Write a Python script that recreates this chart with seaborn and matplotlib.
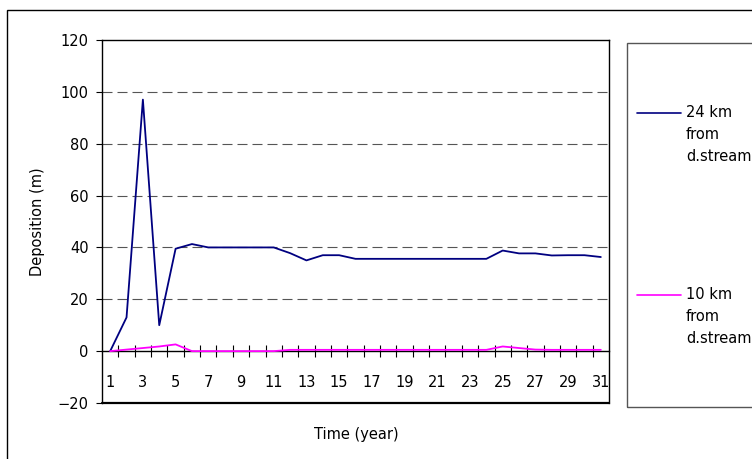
import matplotlib
matplotlib.use('Agg')
import matplotlib.pyplot as plt
import seaborn as sns
import pandas as pd
from matplotlib.patches import Rectangle
from matplotlib.lines import Line2D
from matplotlib.ticker import FixedLocator, NullFormatter

years = list(range(1, 32))
dep_24km = [0, 13, 97, 10, 39.5, 41.3, 40, 40, 40, 40, 40, 37.8, 35, 37, 37,
            35.6, 35.6, 35.6, 35.6, 35.6, 35.6, 35.6, 35.6, 35.6,
            38.8, 37.7, 37.7, 36.9, 37, 37, 36.3]
dep_10km = [0, 0.6, 1.2, 1.8, 2.6, 0, 0, 0, 0, 0, 0,
            0.5, 0.5, 0.5, 0.5, 0.5, 0.5, 0.5, 0.5, 0.5, 0.5, 0.5, 0.5, 0.5,
            1.8, 1.2, 0.6, 0.5, 0.5, 0.5, 0.5]
series_names = ["24 km\nfrom\nd.stream", "10 km\nfrom\nd.stream"]
series_colors = ["#000080", "#FF00FF"]
y_ticks = [-20, 0, 20, 40, 60, 80, 100, 120]
x_labels = [str(y) for y in years if y % 2 == 1]

df = pd.DataFrame({
    "Year": years * 2,
    "Deposition": dep_24km + dep_10km,
    "Series": [series_names[0]] * len(years) + [series_names[1]] * len(years),
})

sns.set_style("white")
plt.rcParams['font.family'] = ['DejaVu Sans']
plt.rcParams['text.color'] = 'black'
plt.rcParams['axes.labelcolor'] = 'black'
plt.rcParams['xtick.color'] = 'black'
plt.rcParams['ytick.color'] = 'black'
FS = 10.5

W, H = 752, 459
fig = plt.figure(figsize=(W / 100, H / 100), dpi=100)

def fx(px):
    return px / W

def fy(py):
    return 1 - py / H

ax = fig.add_axes([fx(102), fy(403), fx(609) - fx(102), fy(40) - fy(403)])

sns.lineplot(data=df, x="Year", y="Deposition", hue="Series",
             palette=dict(zip(series_names, series_colors)),
             linewidth=1.3, ax=ax, legend=False)
for ln in ax.lines:
    ln.set_zorder(6)

ax.set_xlim(0.5, 31.5)
ax.set_ylim(-20, 120)
ax.set_yticks(y_ticks)
ax.set_yticklabels([str(v).replace('-', '\u2212') for v in y_ticks], fontsize=FS)

for v in [20, 40, 60, 80, 100]:
    ax.axhline(v, color="#555555", lw=0.8, ls=(0, (9, 4.5)), zorder=1)

# x axis at y = 0
ax.spines['bottom'].set_position(('data', 0))
ax.spines['bottom'].set_linewidth(1.0)
ax.spines['bottom'].set_color('black')
ax.xaxis.set_major_locator(FixedLocator([y for y in years if y % 2 == 1]))
ax.set_xticklabels(x_labels, fontsize=FS)
ax.xaxis.set_minor_locator(FixedLocator([y + 0.5 for y in years[:-1]]))
ax.xaxis.set_minor_formatter(NullFormatter())
ax.tick_params(axis='x', which='major', bottom=True, length=0, pad=17,
               labelcolor='black')
ax.tick_params(axis='x', which='minor', bottom=True, length=9, width=0.8,
               direction='inout', color='black')
ax.tick_params(axis='y', which='major', left=True, length=4.5, width=0.8,
               direction='out', color='black', pad=5, labelcolor='black')

for s in ['left', 'top', 'right']:
    ax.spines[s].set_linewidth(1.0)
    ax.spines[s].set_color('black')
# bottom border of plot area at -20
ax.axhline(-20, color='black', lw=1.6, zorder=4, clip_on=False)

ax.set_xlabel("")
ax.set_ylabel("Deposition (m)", fontsize=FS, labelpad=9, color='black')
fig.text(fx(356), fy(434), "Time (year)", fontsize=FS, ha='center', va='center',
         color='black')

# outer chart border
fig.patches.append(Rectangle((fx(7), fy(470)), fx(800) - fx(7), fy(10) - fy(470),
                             transform=fig.transFigure, fill=False,
                             edgecolor='black', lw=1.0))
# legend box
fig.patches.append(Rectangle((fx(627), fy(407)), fx(800) - fx(627), fy(43) - fy(407),
                             transform=fig.transFigure, fill=False,
                             edgecolor='#555555', lw=1.0))

for name, col, ly in zip(series_names, series_colors, [113, 295]):
    fig.add_artist(Line2D([fx(637), fx(681)], [fy(ly), fy(ly)], color=col, lw=1.2,
                          transform=fig.transFigure))
    fig.text(fx(686), fy(ly - 8), name, fontsize=FS, ha='left', va='top',
             linespacing=1.6, color='black')

fig.savefig("out.png", dpi=100)
